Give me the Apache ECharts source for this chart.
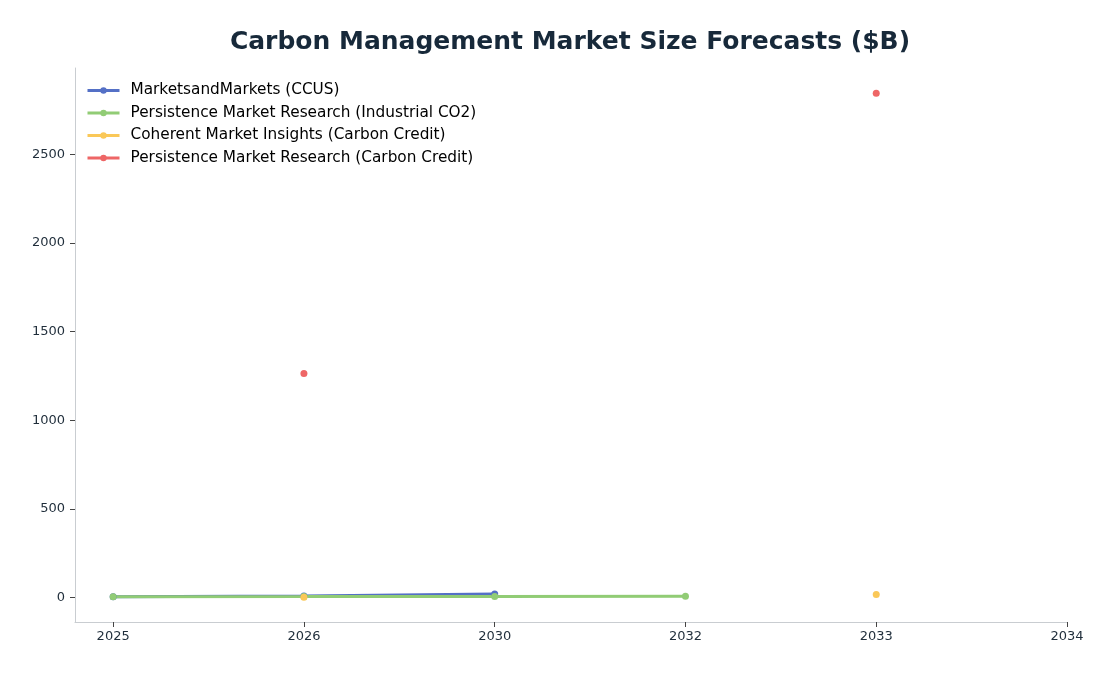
<!DOCTYPE html>
<html><head><meta charset="utf-8">
<script src="https://cdn.jsdelivr.net/npm/echarts@6/dist/echarts.min.js"></script>
<style>html,body{margin:0;padding:0;background:#fff}#c{width:1114px;height:676px}</style>
</head><body><div id="c"></div>
<script>
const years = ['2025','2026','2030','2032','2033','2034'];
const mnmCCUS = [4, 8, 20.6, null, null, null];
const pmrIndustrialCO2 = [5, 5.3, 6.5, 7.5, null, null];
const cmiCarbonCredit = [null, 1.2, null, null, 17.5, null];
const pmrCarbonCredit = [null, 1264, null, null, 2845, null];
const yTicks = [0, 500, 1000, 1500, 2000, 2500];
const seriesNames = ['MarketsandMarkets (CCUS)','Persistence Market Research (Industrial CO2)','Coherent Market Insights (Carbon Credit)','Persistence Market Research (Carbon Credit)'];
const colors = ['#5470c6','#91cc75','#fac858','#ee6666'];
const allData = [mnmCCUS, pmrIndustrialCO2, cmiCarbonCredit, pmrCarbonCredit];
const chart = echarts.init(document.getElementById('c'));
const font = 'DejaVu Sans';
chart.setOption({
  animation: false,
  color: colors,
  title: {
    text: 'Carbon Management Market Size Forecasts ($B)',
    left: 565, top: 25, textAlign: 'center',
    textStyle: {fontFamily: font, fontSize: 25, fontWeight: 'bold', color: '#17293a'}
  },
  legend: {
    orient: 'vertical', left: 81, top: 78, itemGap: 7.5, itemWidth: 32, itemHeight: 8,
    lineStyle: {width: 3},
    textStyle: {fontFamily: font, fontSize: 15.3, color: '#000', padding: [0, 0, 0, 6]},
    data: seriesNames
  },
  grid: {left: 75, right: 47, top: 68, bottom: 54, containLabel: false},
  xAxis: {
    type: 'value', min: -0.2, max: 5,
    axisLine: {show: true, onZero: false, lineStyle: {color: '#c9cdd1'}},
    axisTick: {show: true, customValues: [0,1,2,3,4,5], length: 5, lineStyle: {color: '#444'}},
    axisLabel: {customValues: [0,1,2,3,4,5], formatter: v => years[Math.round(v)], fontFamily: font, fontSize: 13, color: '#1f2d3a', margin: 8},
    splitLine: {show: false}
  },
  yAxis: {
    type: 'value', min: -138, max: 2987,
    axisLine: {show: true, onZero: false, lineStyle: {color: '#c9cdd1'}},
    axisTick: {show: true, customValues: yTicks, length: 5, lineStyle: {color: '#444'}},
    axisLabel: {customValues: yTicks, formatter: v => String(v), fontFamily: font, fontSize: 13, color: '#1f2d3a', margin: 10},
    splitLine: {show: false}
  },
  series: allData.map((arr, i) => ({
    name: seriesNames[i],
    type: 'line',
    data: arr.map((v, j) => [j, v]),
    connectNulls: false,
    symbol: 'circle', symbolSize: 7, showSymbol: true,
    lineStyle: {width: 3, color: colors[i]},
    itemStyle: {color: colors[i]}
  }))
});
</script></body></html>
